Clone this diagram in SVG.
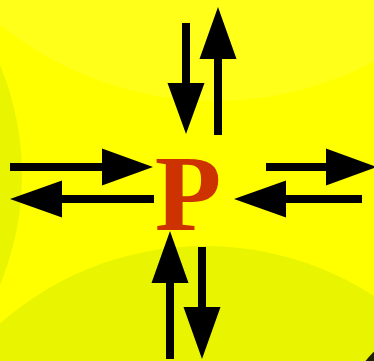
<svg xmlns="http://www.w3.org/2000/svg" width="374" height="361" viewBox="0 0 374 361">
  <style>
    .arrow { fill: #000000; }
    .blob { fill: #E9F500; }
    .label { font-family: "Liberation Serif", "Times New Roman", serif; font-weight: bold; font-size: 109px; fill: #CC3300; }
  </style>
  <g id="background">
    <rect x="0" y="0" width="374" height="361" fill="#FFFF00"/>
    <circle cx="215" cy="-239" r="340" fill="#FFFF1A"/>
    <circle class="blob" cx="-264" cy="175" r="286"/>
    <circle class="blob" cx="205" cy="556" r="310"/>
    <circle cx="440" cy="420" r="95" fill="#1C2000"/>
  </g>
  <g id="node-P">
    <text class="label" x="188" y="230" text-anchor="middle">P</text>
  </g>
  <g id="connectors">
    <polygon class="arrow" points="182,23 190,23 190,83 204.5,83 186,134 167.5,83 182,83"/>
    <polygon class="arrow" points="214,135 222,135 222,59 236.5,59 218,7 199.5,59 214,59"/>
    <polygon class="arrow" points="10,163 102,163 102,148.5 153,167 102,185.5 102,171 10,171"/>
    <polygon class="arrow" points="154,195 62,195 62,180.5 10,199 62,217.5 62,203 154,203"/>
    <polygon class="arrow" points="266,163 326,163 326,148.5 377,167 326,185.5 326,171 266,171"/>
    <polygon class="arrow" points="362,195 286,195 286,180.5 234,199 286,217.5 286,203 362,203"/>
    <polygon class="arrow" points="166,359 174,359 174,283 188.5,283 170,231 151.5,283 166,283"/>
    <polygon class="arrow" points="198,247 206,247 206,307 220.5,307 202,359 183.5,307 198,307"/>
  </g>
</svg>
